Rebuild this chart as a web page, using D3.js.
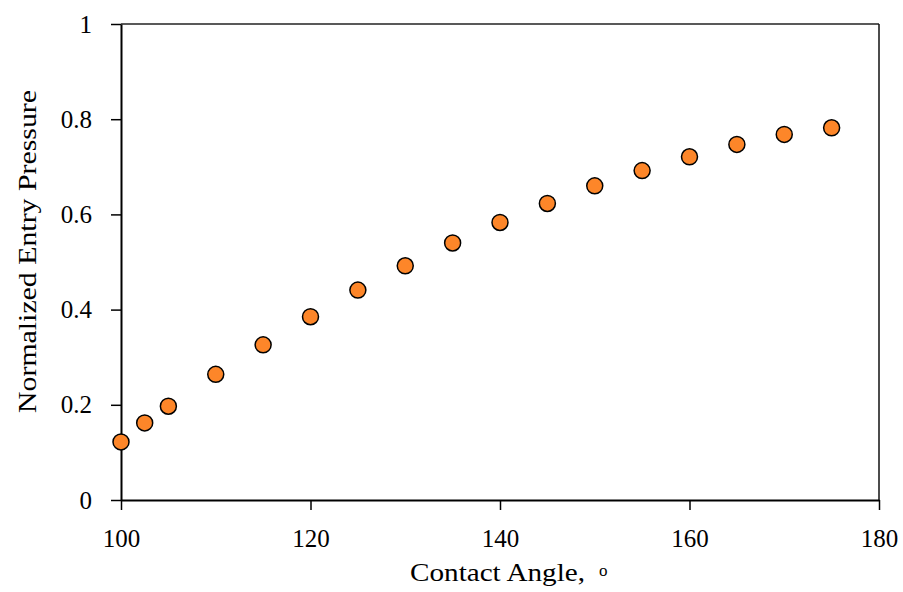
<!DOCTYPE html>
<html>
<head>
<meta charset="utf-8">
<script src="https://cdn.jsdelivr.net/npm/d3@7"></script>
<style>
  body { margin: 0; background: #fff; }
  text { font-family: "Liberation Serif", "DejaVu Serif", serif; fill: #000; }
</style>
</head>
<body>
<div id="chart"></div>
<script>
// data
var angles = [100, 102.5, 105, 110, 115, 120, 125, 130, 135, 140, 145, 150, 155, 160, 165, 170, 175];
var pressure = [0.122, 0.162, 0.197, 0.264, 0.326, 0.385, 0.441, 0.492, 0.540, 0.583, 0.623, 0.660, 0.692, 0.721, 0.747, 0.768, 0.782];
var xTicks = [100, 120, 140, 160, 180];
var yTicks = [0, 0.2, 0.4, 0.6, 0.8, 1];

var w = 903, h = 592;
var padL = 121, padR = 879, padT = 24, padB = 500;

var svg = d3.select("#chart").append("svg")
    .attr("width", w)
    .attr("height", h);

var x = d3.scaleLinear().domain([100, 180]).range([padL, padR]);
var y = d3.scaleLinear().domain([0, 1]).range([padB, padT]);

// frame top/right
svg.append("line")
    .attr("x1", padL).attr("x2", padR)
    .attr("y1", padT).attr("y2", padT)
    .attr("stroke", "#222").attr("stroke-width", 1.5);
svg.append("line")
    .attr("x1", padR).attr("x2", padR)
    .attr("y1", padT).attr("y2", padB)
    .attr("stroke", "#111").attr("stroke-width", 1.5);

var xAxis = d3.axisBottom(x).tickValues(xTicks).tickSize(10).tickSizeOuter(0).tickPadding(19);
var yAxis = d3.axisLeft(y).tickValues(yTicks).tickSize(10).tickSizeOuter(0).tickPadding(19)
    .tickFormat(function(d) { return d === 0 || d === 1 ? d : d.toFixed(1); });

var gx = svg.append("g")
    .attr("transform", "translate(0," + padB + ")")
    .call(xAxis);
var gy = svg.append("g")
    .attr("transform", "translate(" + padL + ",0)")
    .call(yAxis);

[gx, gy].forEach(function(g) {
    g.select(".domain").attr("stroke", "#000").attr("stroke-width", 2);
    g.selectAll(".tick line").attr("stroke", "#000").attr("stroke-width", 1.5);
    g.selectAll(".tick text").attr("font-size", "25px").attr("fill", "#000")
        .style("font-family", "'Liberation Serif', serif");
});

// points
svg.selectAll("circle")
    .data(angles)
    .enter()
    .append("circle")
    .attr("cx", function(d) { return x(d); })
    .attr("cy", function(d, i) { return y(pressure[i]); })
    .attr("r", 8)
    .attr("fill", "#fd8629")
    .attr("stroke", "#000")
    .attr("stroke-width", 1.5);

// axis titles
svg.append("text")
    .attr("x", 410)
    .attr("y", 581)
    .attr("font-size", "26px")
    .attr("textLength", 175)
    .attr("lengthAdjust", "spacingAndGlyphs")
    .text("Contact Angle,");
svg.append("text")
    .attr("x", 599)
    .attr("y", 576)
    .attr("font-size", "17px")
    .text("o");

svg.append("text")
    .attr("transform", "translate(36,251.5) rotate(-90)")
    .attr("text-anchor", "middle")
    .attr("font-size", "26px")
    .attr("textLength", 323)
    .attr("lengthAdjust", "spacingAndGlyphs")
    .text("Normalized Entry Pressure");
</script>
</body>
</html>
